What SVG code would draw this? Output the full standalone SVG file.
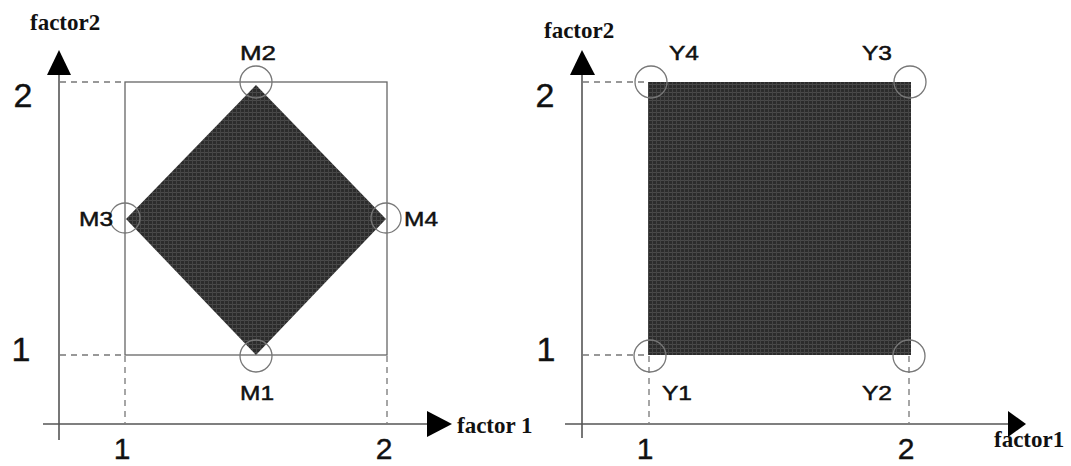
<svg xmlns="http://www.w3.org/2000/svg" width="1071" height="466" viewBox="0 0 1071 466">
<style>
.axis{stroke:#555;stroke-width:1.6;fill:none}
.box{stroke:#666;stroke-width:1.3;fill:none}
.dash{stroke:#777;stroke-width:1.3;stroke-dasharray:6,5;fill:none}
.pt{stroke:#777;stroke-width:1.3;fill:none}
.fill{fill:url(#tex);stroke:none}
.lbl{font-family:"Liberation Sans",Arial,sans-serif;font-size:21px;fill:#111;stroke:#111;stroke-width:0.5;text-anchor:middle}
.num{font-family:"Liberation Sans",Arial,sans-serif;font-size:34px;fill:#111;stroke:#111;stroke-width:0.4;text-anchor:middle}
.numb{font-family:"Liberation Sans",Arial,sans-serif;font-size:30px;fill:#111;stroke:#111;stroke-width:0.4;text-anchor:middle}
.ax{font-family:"Liberation Serif","Times New Roman",serif;font-size:23px;font-weight:bold;fill:#111}
.head{fill:#000}
</style>
<defs>
<pattern id="tex" width="4" height="4" patternUnits="userSpaceOnUse">
<rect width="4" height="4" fill="#2c2c2c"/>
<rect x="0" y="0" width="4" height="1" fill="#4a4a4a"/>
<rect x="0" y="0" width="1" height="4" fill="#444"/>
</pattern>
</defs>
<g id="connectors">
<line class="axis" x1="59" y1="70" x2="59" y2="440"/>
<line class="axis" x1="43" y1="424" x2="430" y2="424"/>
<line class="axis" x1="582" y1="70" x2="582" y2="438"/>
<line class="axis" x1="565" y1="424" x2="1010" y2="424"/>
<line class="dash" x1="60" y1="82" x2="125" y2="82"/>
<line class="dash" x1="60" y1="355" x2="125" y2="355"/>
<line class="dash" x1="125" y1="356" x2="125" y2="423"/>
<line class="dash" x1="387" y1="356" x2="387" y2="423"/>
<line class="dash" x1="583" y1="82" x2="648" y2="82"/>
<line class="dash" x1="583" y1="355" x2="648" y2="355"/>
<line class="dash" x1="649" y1="356" x2="649" y2="423"/>
<line class="dash" x1="909" y1="356" x2="909" y2="423"/>
</g>
<g id="left-arrows">
<polygon class="head" points="59,50 47,75 71,75"/>
<polygon class="head" points="452,424 427,411 427,437"/>
</g>
<g id="right-arrows">
<polygon class="head" points="582,50 570,75 595,75"/>
<polygon class="head" points="1026,424 1008,411 1008,437"/>
</g>
<g id="left-region">
<rect class="box" x="125" y="82" width="262" height="273"/>
<polygon class="fill" points="256,85 386,219 256,355 126,219"/>
</g>
<g id="right-region">
<rect class="fill" x="648" y="82" width="263" height="273"/>
</g>
<g id="M1"><circle class="pt" cx="256" cy="356" r="16"/><text class="lbl" x="257" y="400" textLength="34" lengthAdjust="spacingAndGlyphs">M1</text></g>
<g id="M2"><circle class="pt" cx="256" cy="82" r="16"/><text class="lbl" x="258" y="60" textLength="36" lengthAdjust="spacingAndGlyphs">M2</text></g>
<g id="M3"><circle class="pt" cx="125" cy="218" r="15"/><text class="lbl" x="96" y="226" textLength="34" lengthAdjust="spacingAndGlyphs">M3</text></g>
<g id="M4"><circle class="pt" cx="386" cy="218" r="15"/><text class="lbl" x="421" y="226" textLength="34" lengthAdjust="spacingAndGlyphs">M4</text></g>
<g id="Y4"><circle class="pt" cx="651" cy="82" r="16"/><text class="lbl" x="684" y="60" textLength="30" lengthAdjust="spacingAndGlyphs">Y4</text></g>
<g id="Y3"><circle class="pt" cx="910" cy="82" r="16"/><text class="lbl" x="877" y="60" textLength="30" lengthAdjust="spacingAndGlyphs">Y3</text></g>
<g id="Y1"><circle class="pt" cx="650" cy="356" r="16"/><text class="lbl" x="677" y="400" textLength="30" lengthAdjust="spacingAndGlyphs">Y1</text></g>
<g id="Y2"><circle class="pt" cx="909" cy="356" r="16"/><text class="lbl" x="877" y="400" textLength="30" lengthAdjust="spacingAndGlyphs">Y2</text></g>
<g id="left-labels">
<text class="ax" x="30" y="30">factor2</text>
<text class="ax" x="457" y="433">factor 1</text>
<text class="num" x="23" y="107">2</text>
<text class="num" x="21" y="361">1</text>
<text class="numb" x="122" y="459">1</text>
<text class="numb" x="384" y="459">2</text>
</g>
<g id="right-labels">
<text class="ax" x="544" y="38">factor2</text>
<text class="ax" x="994" y="447">factor1</text>
<text class="num" x="545" y="107">2</text>
<text class="num" x="546" y="361">1</text>
<text class="numb" x="645" y="459">1</text>
<text class="numb" x="906" y="459">2</text>
</g>
</svg>
